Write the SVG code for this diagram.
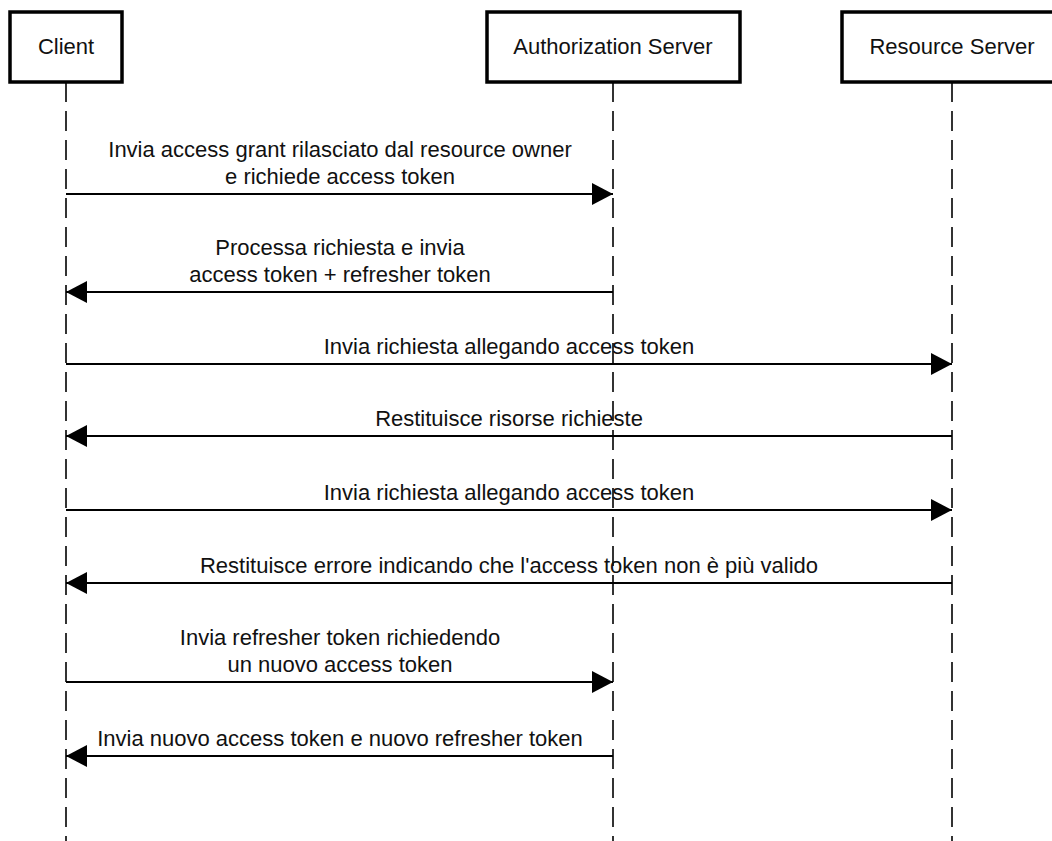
<svg xmlns="http://www.w3.org/2000/svg" width="1052" height="841" viewBox="0 0 1052 841">
<defs>
<style>
.box{fill:#fff;stroke:#000;stroke-width:3.5}
.life{stroke:#333;stroke-width:2;stroke-dasharray:20 9;fill:none}
.msg{stroke:#000;stroke-width:2;fill:none}
text{font-family:"Liberation Sans",Arial,sans-serif;font-size:22px;fill:#111;text-anchor:middle}
</style>
<marker id="ah" viewBox="0 0 21 22" refX="21" refY="11" markerWidth="21" markerHeight="22" markerUnits="userSpaceOnUse" orient="auto">
<path d="M0,0 L21,11 L0,22 Z" fill="#000"/>
</marker>
</defs>
<rect width="1052" height="841" fill="#fff"/>
<g id="lifelines">
<line class="life" x1="66" y1="82" x2="66" y2="841"/>
<line class="life" x1="613" y1="82" x2="613" y2="841"/>
<line class="life" x1="952" y1="82" x2="952" y2="841"/>
</g>
<g id="client"><rect class="box" x="10" y="12" width="112" height="70"/><text x="66" y="54">Client</text></g>
<g id="authserver"><rect class="box" x="487" y="12" width="253" height="70"/><text x="613" y="54">Authorization Server</text></g>
<g id="resourceserver"><rect class="box" x="842" y="12" width="220" height="70"/><text x="952" y="54">Resource Server</text></g>
<g id="connectors">
<line class="msg" x1="66" y1="194" x2="613" y2="194" marker-end="url(#ah)"/>
<text x="340" y="157">Invia access grant rilasciato dal resource owner</text>
<text x="340" y="184">e richiede access token</text>
<line class="msg" x1="613" y1="292" x2="66" y2="292" marker-end="url(#ah)"/>
<text x="340" y="255">Processa richiesta e invia</text>
<text x="340" y="282">access token + refresher token</text>
<line class="msg" x1="66" y1="364" x2="952" y2="364" marker-end="url(#ah)"/>
<text x="509" y="354">Invia richiesta allegando access token</text>
<line class="msg" x1="952" y1="436" x2="66" y2="436" marker-end="url(#ah)"/>
<text x="509" y="426">Restituisce risorse richieste</text>
<line class="msg" x1="66" y1="510" x2="952" y2="510" marker-end="url(#ah)"/>
<text x="509" y="500">Invia richiesta allegando access token</text>
<line class="msg" x1="952" y1="583" x2="66" y2="583" marker-end="url(#ah)"/>
<text x="509" y="573">Restituisce errore indicando che l'access token non è più valido</text>
<line class="msg" x1="66" y1="682" x2="613" y2="682" marker-end="url(#ah)"/>
<text x="340" y="645">Invia refresher token richiedendo</text>
<text x="340" y="672">un nuovo access token</text>
<line class="msg" x1="613" y1="756" x2="66" y2="756" marker-end="url(#ah)"/>
<text x="340" y="746">Invia nuovo access token e nuovo refresher token</text>
</g>
</svg>
